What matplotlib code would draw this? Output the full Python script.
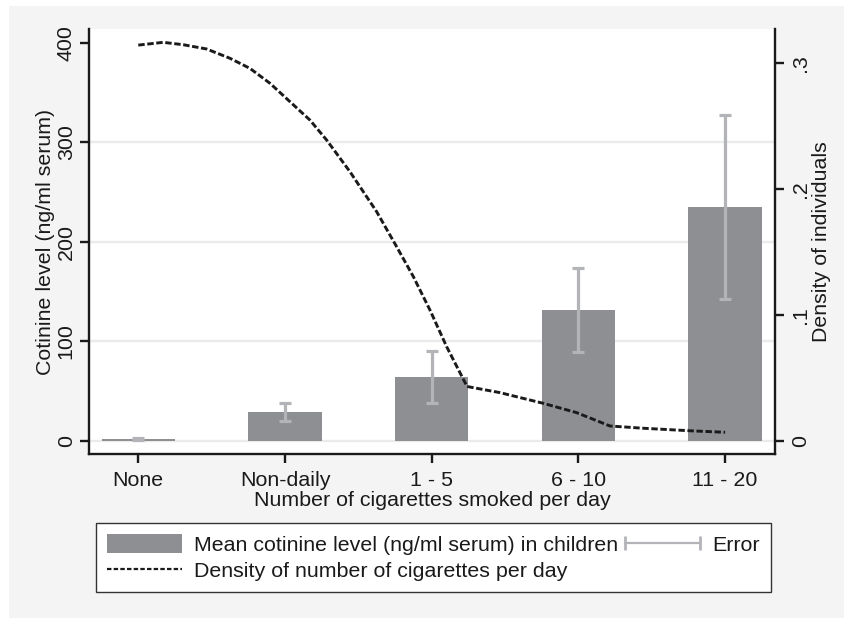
import matplotlib
matplotlib.use("Agg")
import matplotlib.pyplot as plt
from matplotlib.lines import Line2D
from matplotlib.patches import Rectangle
from matplotlib.legend_handler import HandlerLine2D
import numpy as np

plt.rcParams['font.family'] = ['Liberation Sans', 'DejaVu Sans']

# ---- data ----
categories = ["None", "Non-daily", "1 - 5", "6 - 10", "11 - 20"]
mean_cotinine = [1.4, 28.8, 64.0, 131.3, 235.0]
ci_low = [0.3, 20.1, 38.2, 88.8, 142.1]
ci_high = [2.4, 37.9, 90.1, 173.9, 327.0]

# density curve (x in category positions)
dens_x = [0.0, 0.170, 0.307, 0.466, 0.625, 0.761, 0.898, 1.034, 1.170, 1.284,
          1.443, 1.625, 1.761, 1.875, 1.988, 2.102, 2.241, 2.466, 2.761, 2.988,
          3.215, 3.442, 3.761, 4.0]
dens_y = [0.3145, 0.3167, 0.3148, 0.3114, 0.3040, 0.2960, 0.2841, 0.2695, 0.2549, 0.2390,
          0.2138, 0.1820, 0.1542, 0.1304, 0.1039, 0.0747, 0.0431, 0.0382, 0.0297, 0.0223,
          0.0117, 0.0099, 0.0079, 0.0067]

left_ticks = [0, 100, 200, 300, 400]
left_ticklabels = ["0", "100", "200", "300", "400"]
right_ticks = [0, 0.1, 0.2, 0.3]
right_ticklabels = ["0", ".1", ".2", ".3"]
grid_levels = [0, 100, 200, 300]

# ---- style ----
W, H = 844, 618
FS = 15.4
bar_col = "#8e8f93"
err_col = "#b3b4b8"
txt_col = "#1a1a1a"
bg_col = "#f4f4f4"
spine_lw = 1.7

fig = plt.figure(figsize=(W / 100, H / 100), dpi=100, facecolor="white")
fig.patches.append(Rectangle((9 / W, 0), 1 - 9 / W, 612 / H, transform=fig.transFigure,
                             facecolor=bg_col, edgecolor="none", zorder=-10))

ax = fig.add_axes([89 / W, 1 - 454 / H, 686 / W, 425 / H])
ax.set_facecolor("white")
x = np.arange(len(categories))

for g in grid_levels:
    ax.axhline(g, color="#ebebeb", lw=1.7, zorder=0)

bars = ax.bar(x, mean_cotinine, width=0.5, color=bar_col, zorder=2)
lo = np.array(mean_cotinine) - np.array(ci_low)
hi = np.array(ci_high) - np.array(mean_cotinine)
ax.errorbar(x, mean_cotinine, yerr=[lo, hi], fmt="none", ecolor=err_col,
            elinewidth=2.3, capsize=4.5, capthick=2.3, zorder=3)

ax.set_xlim(-0.336, 4.340)
ax.set_ylim(-13.37, 413.77)
ax.set_xticks(x)
ax.set_xticklabels(categories, fontsize=FS, color=txt_col)
ax.set_yticks(left_ticks)
ax.set_yticklabels(left_ticklabels, fontsize=FS, color=txt_col, rotation=90, va="center")
ax.tick_params(axis="x", length=6.6, width=spine_lw, color=txt_col, pad=6.0)
ax.tick_params(axis="y", length=6.8, width=spine_lw, color=txt_col, pad=2.7)
for s in ["top", "right"]:
    ax.spines[s].set_visible(False)
for s in ["left", "bottom"]:
    ax.spines[s].set_linewidth(spine_lw)
    ax.spines[s].set_color(txt_col)

ax.set_xlabel("Number of cigarettes smoked per day", fontsize=FS, color=txt_col, labelpad=0)
ax.set_ylabel("Cotinine level (ng/ml serum)", fontsize=FS, color=txt_col)
ax.yaxis.set_label_coords((55.5 - 89) / 686, 0.5)

ax2 = ax.twinx()
dens_line, = ax2.plot(dens_x, dens_y, color="#1a1a1a", lw=2.1,
                      linestyle=(0, (2.2, 0.9)), zorder=4)
ax2.set_ylim(-0.01057, 0.3273)
ax2.set_yticks(right_ticks)
ax2.set_yticklabels(right_ticklabels, fontsize=FS, color=txt_col, rotation=90, va="center")
ax2.tick_params(axis="y", length=6.4, width=spine_lw, color=txt_col, pad=5.4)
for s in ["top", "left", "bottom"]:
    ax2.spines[s].set_visible(False)
ax2.spines["right"].set_linewidth(spine_lw)
ax2.spines["right"].set_color(txt_col)
ax2.set_ylabel("Density of individuals", fontsize=FS, color=txt_col)
ax2.yaxis.set_label_coords((811.7 - 89) / 686, 0.5)

# ---- legend ----
dens_proxy = Line2D([], [], color="#1a1a1a", lw=1.6, linestyle=(0, (2.0, 1.0)))
err_proxy = Line2D([], [], color=err_col, lw=1.6, marker="|", markersize=10,
                   markeredgewidth=2.0)
leg = fig.legend(handles=[bars, dens_proxy, err_proxy],
                 labels=["Mean cotinine level (ng/ml serum) in children",
                         "Density of number of cigarettes per day", "Error"],
                 ncol=2, loc="upper left", bbox_to_anchor=(96 / W, 1 - 523.3 / H),
                 bbox_transform=fig.transFigure, borderaxespad=0, fontsize=FS,
                 handlelength=3.5, handleheight=0.93, handletextpad=0.57,
                 columnspacing=0.33, labelspacing=0.27, borderpad=0.52,
                 fancybox=False, frameon=True, framealpha=1,
                 handler_map={err_proxy: HandlerLine2D(numpoints=2, marker_pad=0)})
leg.get_frame().set_facecolor("white")
leg.get_frame().set_edgecolor("#333333")
leg.get_frame().set_linewidth(1.0)
for t in leg.get_texts():
    t.set_color(txt_col)

fig.savefig("out.png", dpi=100, facecolor="white")
